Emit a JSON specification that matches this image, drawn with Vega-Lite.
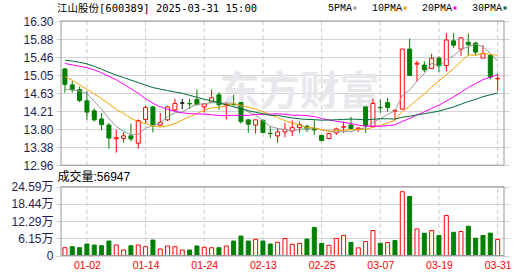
{
"$schema": "https://vega.github.io/schema/vega-lite/v6.json",
"width": 453, "height": 234.5,
"autosize": "none",
"padding": {"left": 56, "top": 21, "right": 21, "bottom": 20.5},
"background": "#ffffff",
"config": {"view": {"stroke": null}},
"title": {"text": "江山股份[600389] 2025-03-31 15:00", "anchor": "start", "frame": "group", "offset": 0, "dy": 11, "dx": 1, "font": "DejaVu Sans Mono, Noto Sans CJK SC", "fontSize": 10.5, "fontWeight": "normal", "color": "#000000"},
"data": {"values": [
{"d":"2024-12-27","i":0,"o":15.19,"h":15.21,"l":14.64,"c":14.83,"v":27800,"k":"down","vk":"up","m5":14.72,"m10":15.01,"m20":15.316,"m30":15.394},
{"d":"2024-12-30","i":1,"o":14.82,"h":14.91,"l":14.64,"c":14.71,"v":31400,"k":"down","vk":"down","m5":14.70,"m10":14.93,"m20":15.285,"m30":15.371},
{"d":"2024-12-31","i":2,"o":14.71,"h":14.78,"l":14.42,"c":14.46,"v":27800,"k":"down","vk":"down","m5":14.68,"m10":14.82,"m20":15.25,"m30":15.343},
{"d":"2025-01-02","i":3,"o":14.45,"h":14.68,"l":14.01,"c":14.19,"v":41000,"k":"down","vk":"down","m5":14.62,"m10":14.72,"m20":15.216,"m30":15.308},
{"d":"2025-01-03","i":4,"o":14.22,"h":14.28,"l":13.97,"c":14.01,"v":37400,"k":"down","vk":"down","m5":14.44,"m10":14.61,"m20":15.17,"m30":15.25},
{"d":"2025-01-06","i":5,"o":14.03,"h":14.17,"l":13.77,"c":13.90,"v":34900,"k":"down","vk":"down","m5":14.254,"m10":14.50,"m20":15.10,"m30":15.181},
{"d":"2025-01-07","i":6,"o":13.89,"h":13.94,"l":13.34,"c":13.59,"v":51700,"k":"down","vk":"down","m5":14.032,"m10":14.38,"m20":15.019,"m30":15.112},
{"d":"2025-01-08","i":7,"o":13.57,"h":13.78,"l":13.25,"c":13.60,"v":37400,"k":"up","vk":"up","m5":13.858,"m10":14.25,"m20":14.938,"m30":15.047},
{"d":"2025-01-09","i":8,"o":13.58,"h":13.73,"l":13.48,"c":13.64,"v":19600,"k":"up","vk":"up","m5":13.748,"m10":14.16,"m20":14.834,"m30":14.989},
{"d":"2025-01-10","i":9,"o":13.64,"h":13.92,"l":13.51,"c":13.57,"v":34900,"k":"down","vk":"down","m5":13.66,"m10":14.05,"m20":14.73,"m30":14.931},
{"d":"2025-01-13","i":10,"o":13.47,"h":14.02,"l":13.34,"c":13.99,"v":37400,"k":"up","vk":"up","m5":13.678,"m10":13.966,"m20":14.626,"m30":14.873},
{"d":"2025-01-14","i":11,"o":14.02,"h":14.34,"l":13.92,"c":14.30,"v":31400,"k":"up","vk":"up","m5":13.818,"m10":13.925,"m20":14.498,"m30":14.815},
{"d":"2025-01-15","i":12,"o":14.31,"h":14.33,"l":13.72,"c":13.89,"v":55200,"k":"down","vk":"down","m5":13.878,"m10":13.868,"m20":14.394,"m30":14.758},
{"d":"2025-01-16","i":13,"o":13.89,"h":14.17,"l":13.87,"c":13.95,"v":23200,"k":"up","vk":"up","m5":13.94,"m10":13.844,"m20":14.313,"m30":14.723},
{"d":"2025-01-17","i":14,"o":14.01,"h":14.34,"l":13.98,"c":14.31,"v":33900,"k":"up","vk":"up","m5":14.088,"m10":13.874,"m20":14.255,"m30":14.688},
{"d":"2025-01-20","i":15,"o":14.24,"h":14.50,"l":14.20,"c":14.39,"v":31400,"k":"up","vk":"up","m5":14.17,"m10":13.924,"m20":14.209,"m30":14.656},
{"d":"2025-01-21","i":16,"o":14.40,"h":14.49,"l":14.26,"c":14.40,"v":19600,"k":"flat","vk":"up","m5":14.19,"m10":14.004,"m20":14.174,"m30":14.626},
{"d":"2025-01-22","i":17,"o":14.39,"h":14.50,"l":14.26,"c":14.38,"v":19600,"k":"down","vk":"down","m5":14.288,"m10":14.083,"m20":14.156,"m30":14.579},
{"d":"2025-01-23","i":18,"o":14.48,"h":14.71,"l":14.35,"c":14.36,"v":33900,"k":"down","vk":"down","m5":14.37,"m10":14.155,"m20":14.147,"m30":14.533},
{"d":"2025-01-24","i":19,"o":14.31,"h":14.39,"l":14.18,"c":14.38,"v":29200,"k":"up","vk":"up","m5":14.384,"m10":14.236,"m20":14.143,"m30":14.487},
{"d":"2025-01-27","i":20,"o":14.42,"h":14.71,"l":14.41,"c":14.52,"v":27800,"k":"up","vk":"up","m5":14.408,"m10":14.289,"m20":14.128,"m30":14.452},
{"d":"2025-02-05","i":21,"o":14.59,"h":14.65,"l":14.24,"c":14.36,"v":27800,"k":"down","vk":"down","m5":14.404,"m10":14.297,"m20":14.111,"m30":14.406},
{"d":"2025-02-06","i":22,"o":14.35,"h":14.41,"l":14.02,"c":14.37,"v":33900,"k":"up","vk":"up","m5":14.40,"m10":14.344,"m20":14.106,"m30":14.359},
{"d":"2025-02-07","i":23,"o":14.37,"h":14.59,"l":14.35,"c":14.36,"v":51700,"k":"down","vk":"down","m5":14.40,"m10":14.385,"m20":14.115,"m30":14.313},
{"d":"2025-02-10","i":24,"o":14.41,"h":14.42,"l":13.92,"c":13.97,"v":69500,"k":"down","vk":"down","m5":14.318,"m10":14.351,"m20":14.113,"m30":14.267},
{"d":"2025-02-11","i":25,"o":14.01,"h":14.02,"l":13.71,"c":13.91,"v":51700,"k":"down","vk":"down","m5":14.196,"m10":14.302,"m20":14.113,"m30":14.225},
{"d":"2025-02-12","i":26,"o":13.89,"h":14.01,"l":13.69,"c":14.01,"v":57700,"k":"up","vk":"up","m5":14.122,"m10":14.263,"m20":14.134,"m30":14.186},
{"d":"2025-02-13","i":27,"o":14.00,"h":14.01,"l":13.70,"c":13.72,"v":51700,"k":"down","vk":"down","m5":13.994,"m10":14.197,"m20":14.14,"m30":14.151},
{"d":"2025-02-14","i":28,"o":13.70,"h":13.86,"l":13.59,"c":13.69,"v":41000,"k":"down","vk":"down","m5":13.86,"m10":14.13,"m20":14.143,"m30":14.116},
{"d":"2025-02-17","i":29,"o":13.64,"h":13.82,"l":13.48,"c":13.73,"v":47000,"k":"up","vk":"up","m5":13.812,"m10":14.065,"m20":14.151,"m30":14.117},
{"d":"2025-02-18","i":30,"o":13.73,"h":13.94,"l":13.61,"c":13.79,"v":61000,"k":"up","vk":"up","m5":13.788,"m10":13.992,"m20":14.141,"m30":14.082},
{"d":"2025-02-19","i":31,"o":13.75,"h":14.00,"l":13.64,"c":13.83,"v":40000,"k":"up","vk":"up","m5":13.752,"m10":13.937,"m20":14.117,"m30":14.053},
{"d":"2025-02-20","i":32,"o":13.83,"h":13.97,"l":13.71,"c":13.90,"v":43500,"k":"up","vk":"up","m5":13.788,"m10":13.891,"m20":14.118,"m30":14.034},
{"d":"2025-02-21","i":33,"o":13.86,"h":13.90,"l":13.73,"c":13.80,"v":58800,"k":"down","vk":"down","m5":13.81,"m10":13.835,"m20":14.11,"m30":14.021},
{"d":"2025-02-24","i":34,"o":13.81,"h":14.00,"l":13.66,"c":13.78,"v":100500,"k":"down","vk":"down","m5":13.828,"m10":13.82,"m20":14.086,"m30":14.015},
{"d":"2025-02-25","i":35,"o":13.65,"h":13.65,"l":13.52,"c":13.53,"v":43500,"k":"down","vk":"down","m5":13.776,"m10":13.782,"m20":14.042,"m30":14.003},
{"d":"2025-02-26","i":36,"o":13.58,"h":13.71,"l":13.56,"c":13.69,"v":36400,"k":"up","vk":"up","m5":13.748,"m10":13.75,"m20":14.007,"m30":14.006},
{"d":"2025-02-27","i":37,"o":13.71,"h":13.83,"l":13.66,"c":13.80,"v":61000,"k":"up","vk":"up","m5":13.728,"m10":13.758,"m20":13.978,"m30":14.013},
{"d":"2025-02-28","i":38,"o":13.84,"h":13.97,"l":13.71,"c":13.85,"v":72000,"k":"up","vk":"up","m5":13.738,"m10":13.774,"m20":13.952,"m30":14.02},
{"d":"2025-03-03","i":39,"o":13.89,"h":14.08,"l":13.80,"c":13.81,"v":47000,"k":"down","vk":"down","m5":13.736,"m10":13.782,"m20":13.924,"m30":14.028},
{"d":"2025-03-04","i":40,"o":13.80,"h":13.84,"l":13.73,"c":13.82,"v":27400,"k":"up","vk":"up","m5":13.792,"m10":13.784,"m20":13.888,"m30":14.022},
{"d":"2025-03-05","i":41,"o":14.31,"h":14.31,"l":13.71,"c":13.88,"v":49900,"k":"down","vk":"up","m5":13.83,"m10":13.789,"m20":13.863,"m30":14.008},
{"d":"2025-03-06","i":42,"o":13.85,"h":14.50,"l":13.84,"c":14.39,"v":89000,"k":"up","vk":"up","m5":13.948,"m10":13.838,"m20":13.865,"m30":14.024},
{"d":"2025-03-07","i":43,"o":14.30,"h":14.48,"l":14.17,"c":14.29,"v":43900,"k":"down","vk":"down","m5":14.036,"m10":13.887,"m20":13.861,"m30":14.036},
{"d":"2025-03-10","i":44,"o":14.41,"h":14.52,"l":14.20,"c":14.30,"v":46300,"k":"down","vk":"up","m5":14.134,"m10":13.935,"m20":13.878,"m30":14.035},
{"d":"2025-03-11","i":45,"o":14.21,"h":14.26,"l":14.01,"c":14.23,"v":53500,"k":"up","vk":"down","m5":14.218,"m10":14.005,"m20":13.894,"m30":14.03},
{"d":"2025-03-12","i":46,"o":14.26,"h":15.65,"l":14.25,"c":15.65,"v":228000,"k":"up","vk":"up","m5":14.572,"m10":14.201,"m20":13.976,"m30":14.071},
{"d":"2025-03-13","i":47,"o":15.65,"h":15.89,"l":15.04,"c":15.04,"v":211000,"k":"down","vk":"down","m5":14.702,"m10":14.325,"m20":14.042,"m30":14.093},
{"d":"2025-03-14","i":48,"o":15.30,"h":15.38,"l":14.89,"c":15.32,"v":95000,"k":"up","vk":"up","m5":14.908,"m10":14.472,"m20":14.123,"m30":14.125},
{"d":"2025-03-17","i":49,"o":15.28,"h":15.37,"l":15.12,"c":15.17,"v":79600,"k":"down","vk":"down","m5":15.082,"m10":14.608,"m20":14.195,"m30":14.152},
{"d":"2025-03-18","i":50,"o":15.20,"h":15.54,"l":15.19,"c":15.44,"v":89000,"k":"up","vk":"up","m5":15.324,"m10":14.771,"m20":14.278,"m30":14.182},
{"d":"2025-03-19","i":51,"o":15.44,"h":15.48,"l":15.12,"c":15.26,"v":71500,"k":"down","vk":"down","m5":15.246,"m10":14.909,"m20":14.349,"m30":14.212},
{"d":"2025-03-20","i":52,"o":15.27,"h":16.02,"l":15.13,"c":15.86,"v":143000,"k":"up","vk":"up","m5":15.41,"m10":15.056,"m20":14.447,"m30":14.262},
{"d":"2025-03-21","i":53,"o":15.84,"h":16.02,"l":15.68,"c":15.74,"v":83000,"k":"down","vk":"down","m5":15.494,"m10":15.201,"m20":14.544,"m30":14.308},
{"d":"2025-03-24","i":54,"o":15.65,"h":15.93,"l":15.49,"c":15.91,"v":85800,"k":"up","vk":"up","m5":15.642,"m10":15.362,"m20":14.649,"m30":14.372},
{"d":"2025-03-25","i":55,"o":15.81,"h":16.01,"l":15.50,"c":15.75,"v":104700,"k":"down","vk":"down","m5":15.704,"m10":15.514,"m20":14.76,"m30":14.434},
{"d":"2025-03-26","i":56,"o":15.79,"h":15.82,"l":15.50,"c":15.58,"v":61800,"k":"down","vk":"down","m5":15.768,"m10":15.507,"m20":14.854,"m30":14.486},
{"d":"2025-03-27","i":57,"o":15.44,"h":15.74,"l":15.44,"c":15.54,"v":71500,"k":"up","vk":"down","m5":15.704,"m10":15.557,"m20":14.941,"m30":14.547},
{"d":"2025-03-28","i":58,"o":15.50,"h":15.50,"l":14.94,"c":15.00,"v":80000,"k":"down","vk":"down","m5":15.556,"m10":15.525,"m20":14.999,"m30":14.59},
{"d":"2025-03-31","i":59,"o":14.96,"h":15.08,"l":14.67,"c":14.97,"v":56947,"k":"up","vk":"up","m5":15.368,"m10":15.505,"m20":15.057,"m30":14.632}
]},
"layer": [
{"layer": [
 {"transform": [{"filter": {"field": "i", "oneOf": [3,11,19,27,35,43,51,59]}}],
  "mark": {"type": "rule", "color": "#c8c8c8", "strokeDash": [4,3], "strokeWidth": 1},
  "encoding": {
   "x": {"field": "i", "type": "quantitative", "scale": {"domain": [-0.5333, 59.8667], "nice": false, "zero": false}},
   "y": {"datum": 12.96, "type": "quantitative", "scale": {"domain": [12.96, 16.3], "range": [144.2, 0], "nice": false, "zero": false}},
   "y2": {"datum": 16.3}}},
 {"data": {"values": [{"t": "东方财富"}]},
  "mark": {"type": "text", "fontSize": 40, "fontWeight": "bold", "color": "#e8e8ec", "font": "Noto Sans CJK SC", "align": "center", "baseline": "middle"},
  "encoding": {
   "x": {"datum": 32.0, "type": "quantitative"},
   "y": {"datum": 14.64, "type": "quantitative"},
   "text": {"field": "t"}}},
 {"mark": {"type": "rule", "strokeWidth": 1},
  "encoding": {
   "x": {"field": "i", "type": "quantitative"},
   "y": {"field": "l", "type": "quantitative",
     "axis": {"orient": "left", "title": null, "values": [12.96, 13.3775, 13.795, 14.2125, 14.63, 15.0475, 15.465, 15.8825, 16.3], "tickCount": 20, "labelExpr": "['12.96','13.38','13.80','14.21','14.63','15.05','15.46','15.88','16.30'][round((datum.value - 12.96) / 0.4175)]", "labelOverlap": false, "grid": true, "gridColor": "#d2d2d2", "ticks": false, "tickSize": 0, "domain": false, "labelPadding": 3, "labelFont": "Liberation Sans", "labelFontSize": 12, "labelColor": "#1e1e50"}},
   "y2": {"field": "h"},
   "stroke": {"condition": [{"test": "datum.k === 'up'", "value": "#ff0000"}, {"test": "datum.k === 'flat'", "value": "#000000"}], "value": "#008000"}}},
 {"mark": {"type": "bar", "width": 4, "strokeWidth": 1},
  "encoding": {
   "x": {"field": "i", "type": "quantitative"},
   "y": {"field": "o", "type": "quantitative"},
   "y2": {"field": "c"},
   "fill": {"condition": [{"test": "datum.k === 'up'", "value": "#ffffff"}, {"test": "datum.k === 'flat'", "value": "#000000"}], "value": "#008000"},
   "stroke": {"condition": [{"test": "datum.k === 'up'", "value": "#ff0000"}, {"test": "datum.k === 'flat'", "value": "#000000"}], "value": "#008000"}}},
 {"transform": [{"fold": ["m5", "m10", "m20", "m30"], "as": ["ma", "val"]}],
  "mark": {"type": "line", "strokeWidth": 1},
  "encoding": {
   "x": {"field": "i", "type": "quantitative"},
   "y": {"field": "val", "type": "quantitative"},
   "color": {"field": "ma", "type": "nominal",
     "scale": {"domain": ["m5", "m10", "m20", "m30"], "range": ["#999999", "#f2a200", "#ff00ff", "#006b33"]},
     "legend": {"orient": "none", "legendX": 294, "legendY": -18, "direction": "horizontal", "title": null, "padding": 0,
       "labelExpr": "replace(datum.label, 'm', '') + 'PMA'",
       "labelAlign": "right", "labelOffset": -8, "labelBaseline": "middle",
       "symbolType": "M-0.5,0H0.5", "symbolSize": 36, "symbolStrokeWidth": 3, "symbolOffset": 0,
       "columnPadding": 8, "labelFont": "Liberation Mono", "labelFontSize": 10, "labelColor": "#000000"}}}},
 {"data": {"values": [{}]},
  "mark": {"type": "rect", "fillOpacity": 0, "stroke": "#999999", "strokeWidth": 1},
  "encoding": {
   "x": {"datum": -0.5333, "type": "quantitative"},
   "x2": {"datum": 59.8667},
   "y": {"datum": 12.96, "type": "quantitative"},
   "y2": {"datum": 16.3}}}
]},
{"layer": [
 {"transform": [{"filter": {"field": "i", "oneOf": [3,11,19,27,35,43,51,59]}}],
  "mark": {"type": "rule", "color": "#c8c8c8", "strokeDash": [4,3], "strokeWidth": 1},
  "encoding": {
   "x": {"field": "i", "type": "quantitative"},
   "y": {"datum": 0, "type": "quantitative", "scale": {"domain": [0, 245900], "range": [234.5, 165.7], "nice": false}},
   "y2": {"datum": 245900}}},
 {"mark": {"type": "bar", "width": 4, "strokeWidth": 1},
  "encoding": {
   "x": {"field": "i", "type": "quantitative", "scale": {"domain": [-0.5333, 59.8667], "nice": false, "zero": false},
     "axis": {"title": null, "values": [3,11,19,27,35,43,51,59], "tickCount": 20, "labelExpr": "['01-02','01-14','01-24','02-13','02-25','03-07','03-19','03-31'][round((datum.value - 3) / 8)]", "grid": false, "ticks": false, "domain": false, "labelFlush": false, "labelPadding": 5, "labelFont": "Liberation Sans", "labelFontSize": 10.5, "labelColor": "#ff0000"}},
   "y": {"field": "v", "type": "quantitative",
     "axis": {"orient": "left", "values": [0, 61475, 122950, 184425, 245900], "tickCount": 20, "labelExpr": "['0','6.15万','12.29万','18.44万','24.59万'][round(datum.value / 61475)]", "labelOverlap": false, "grid": true, "gridColor": "#d2d2d2", "ticks": false, "tickSize": 0, "domain": false, "labelPadding": 3, "labelFont": "Liberation Sans, Noto Sans CJK SC", "labelFontSize": 12, "labelColor": "#1e1e50",
       "title": "成交量:56947", "titleAngle": 0, "titleAlign": "left", "titleBaseline": "alphabetic", "titleX": 1, "titleY": 159, "titleFont": "Liberation Sans, Noto Sans CJK SC", "titleFontSize": 12, "titleFontWeight": "normal", "titleColor": "#000000"}},
   "fill": {"condition": {"test": "datum.vk === 'up'", "value": "#ffffff"}, "value": "#008000"},
   "stroke": {"condition": {"test": "datum.vk === 'up'", "value": "#ff0000"}, "value": "#008000"}}},
 {"data": {"values": [{}]},
  "mark": {"type": "rect", "fillOpacity": 0, "stroke": "#999999", "strokeWidth": 1},
  "encoding": {
   "x": {"datum": -0.5333, "type": "quantitative"},
   "x2": {"datum": 59.8667},
   "y": {"datum": 0, "type": "quantitative"},
   "y2": {"datum": 245900}}}
]}
],
"resolve": {"scale": {"y": "independent"}, "axis": {"y": "independent"}}
}
